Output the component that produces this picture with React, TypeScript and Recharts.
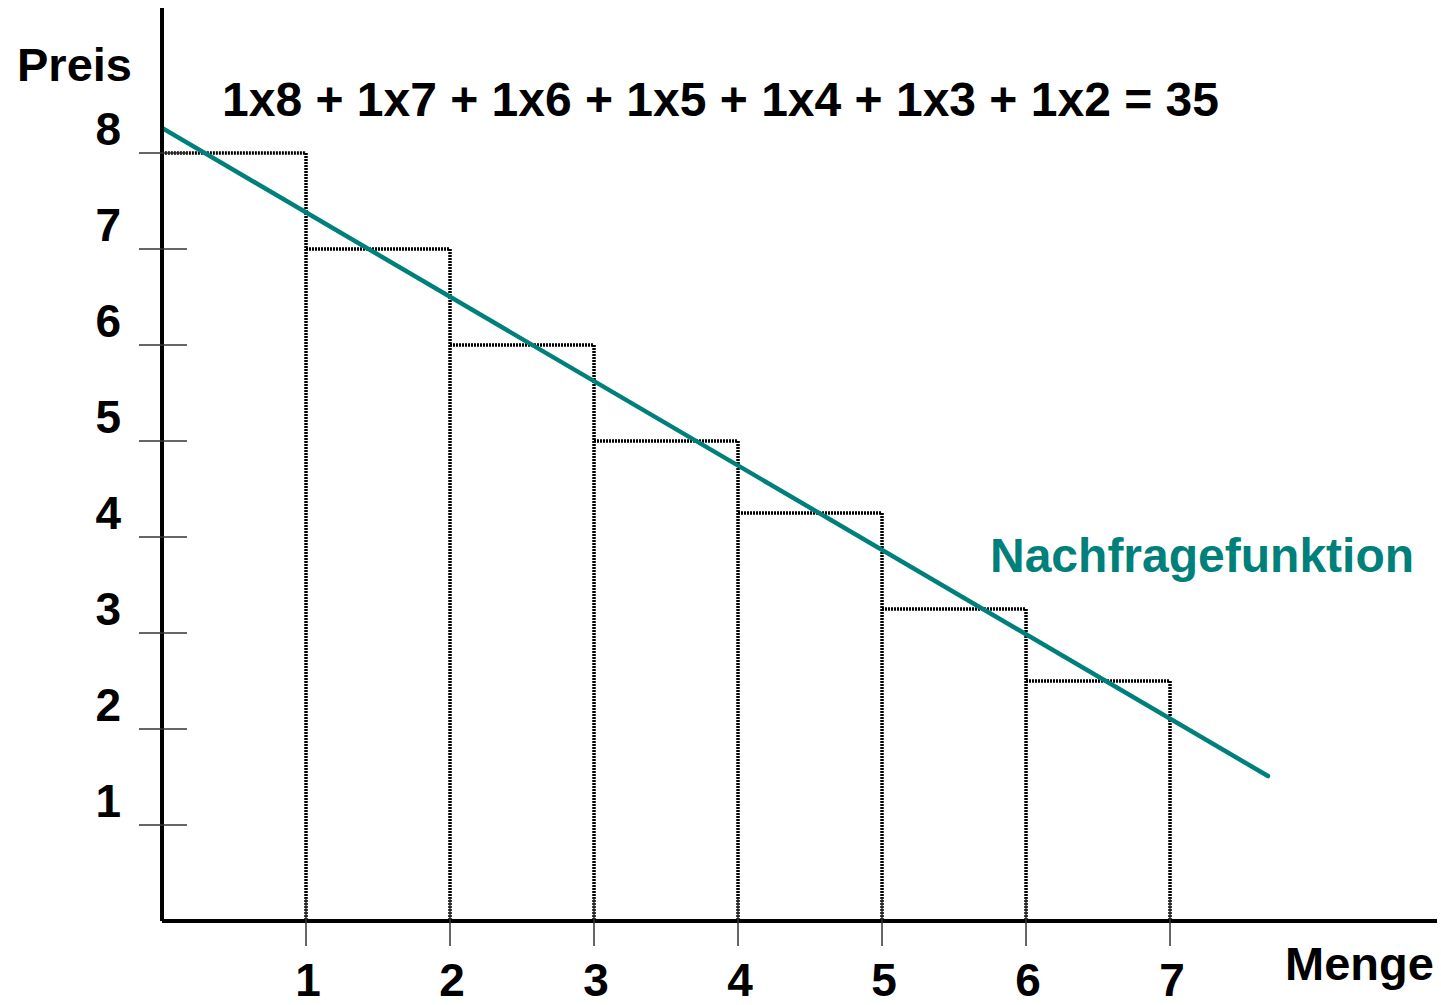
import React from "react";
import { ComposedChart, Line, XAxis, YAxis, ReferenceLine } from "recharts";

// Menge (Stückzahl) und Preis je Stufe der Treppe
const mengen = [1, 2, 3, 4, 5, 6, 7];
const stufenPreise = [8, 7, 6, 5, 4.25, 3.25, 2.5];

// Nachfragefunktion: Anfangs- und Endpunkt der Geraden
const nachfrage = [
  { menge: 0, preis: 8.26 },
  { menge: 7.68, preis: 1.51 },
];

const xTicks = [1, 2, 3, 4, 5, 6, 7];
const yTicks = [1, 2, 3, 4, 5, 6, 7, 8];

const formel = "1x8 + 1x7 + 1x6 + 1x5 + 1x4 + 1x3 + 1x2 = 35";

const W = 1441;
const H = 1005;
const FONT = "'Liberation Sans', Arial, sans-serif";
const TEAL = "#00807a";
const DOTS = { stroke: "#000", strokeWidth: 3.5, strokeDasharray: "2 1" };

const YTick = ({ x, y, payload }: any) => (
  <g>
    <line x1={x - 23} x2={x + 25} y1={y} y2={y} stroke="#333" strokeWidth={1.5} />
    <text
      x={x - 41}
      y={y - 8}
      textAnchor="end"
      fontFamily={FONT}
      fontWeight="bold"
      fontSize={46}
      fill="#000"
    >
      {payload.value}
    </text>
  </g>
);

const XTick = ({ x, y, payload }: any) => (
  <g>
    <line x1={x} x2={x} y1={y - 23} y2={y + 25} stroke="#333" strokeWidth={1.5} />
    <text
      x={x + 2}
      y={y + 75}
      textAnchor="middle"
      fontFamily={FONT}
      fontWeight="bold"
      fontSize={46}
      fill="#000"
    >
      {payload.value}
    </text>
  </g>
);

export default function App() {
  return (
    <div style={{ position: "absolute", left: 0, top: 0, width: W, height: H, background: "#fff" }}>
      <ComposedChart
        width={W}
        height={H}
        data={nachfrage}
        margin={{ top: 8, left: 102, right: 4, bottom: 54 }}
      >
        <XAxis
          type="number"
          dataKey="menge"
          domain={[0, 8.854]}
          ticks={xTicks}
          height={30}
          tickSize={0}
          tickMargin={0}
          axisLine={{ stroke: "#000", strokeWidth: 4 }}
          tickLine={false}
          tick={<XTick />}
          interval={0}
          allowDataOverflow
        />
        <YAxis
          type="number"
          domain={[0, 9.51]}
          ticks={yTicks}
          width={60}
          tickSize={0}
          tickMargin={0}
          axisLine={{ stroke: "#000", strokeWidth: 4 }}
          tickLine={false}
          tick={<YTick />}
          interval={0}
          allowDataOverflow
        />

        {mengen.map((m, i) => (
          <ReferenceLine
            key={"h" + m}
            segment={[
              { x: m - 1 + (i === 0 ? 0.02 : 0), y: stufenPreise[i] },
              { x: m, y: stufenPreise[i] },
            ]}
            {...DOTS}
          />
        ))}
        {mengen.map((m, i) => (
          <ReferenceLine
            key={"v" + m}
            segment={[
              { x: m, y: stufenPreise[i] },
              { x: m, y: 0 },
            ]}
            {...DOTS}
          />
        ))}

        <Line
          type="linear"
          dataKey="preis"
          stroke={TEAL}
          strokeWidth={4.5}
          strokeLinecap="round"
          dot={false}
          activeDot={false}
          isAnimationActive={false}
        />
      </ComposedChart>

      <svg
        width={W}
        height={H}
        style={{ position: "absolute", left: 0, top: 0, pointerEvents: "none" }}
      >
        <g fontFamily={FONT} fontWeight="bold">
          <text x={17} y={81} fontSize={47} fill="#000">Preis</text>
          <text x={222} y={116} fontSize={48} fill="#000">{formel}</text>
          <text x={990} y={572} fontSize={48} fill={TEAL}>Nachfragefunktion</text>
          <text x={1285} y={980} fontSize={47} fill="#000">Menge</text>
        </g>
      </svg>
    </div>
  );
}
